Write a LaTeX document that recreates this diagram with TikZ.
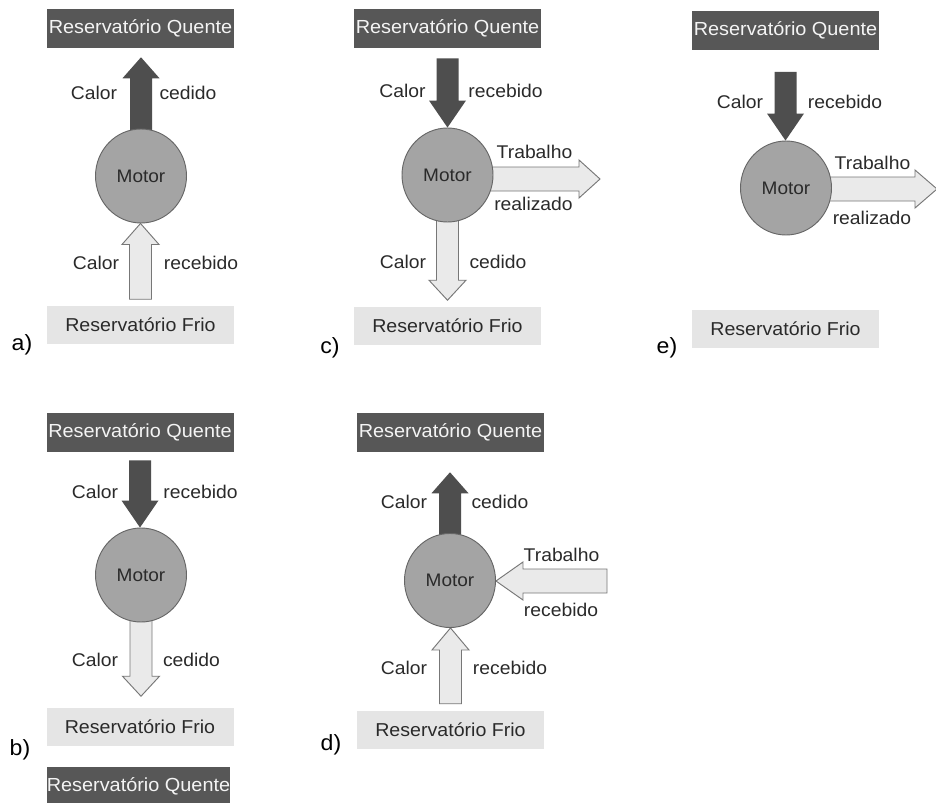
\documentclass[tikz,border=0pt]{standalone}
\usepackage{fontspec}
\setmainfont{Liberation Sans}[FakeStretch=1.05]
\usetikzlibrary{calc,backgrounds,shapes.geometric}
\definecolor{hotfill}{HTML}{575757}
\definecolor{hottext}{HTML}{F4F4F4}
\definecolor{coldfill}{HTML}{E5E5E5}
\definecolor{inktext}{HTML}{2A2A2A}
\definecolor{motorfill}{HTML}{A4A4A4}
\definecolor{motorline}{HTML}{666666}
\definecolor{darkarrow}{HTML}{4E4E4E}
\definecolor{lightarrow}{HTML}{EAEAEA}
\definecolor{lightline}{HTML}{777777}
\def\px{0.75pt}
\tikzset{
  hotbox/.style={rectangle, fill=hotfill, text=hottext, inner sep=0pt,
    minimum width=187*\px, minimum height=39*\px, font=\fontsize{14.2}{16}\selectfont},
  coldbox/.style={rectangle, fill=coldfill, text=inktext, inner sep=0pt,
    minimum width=187*\px, minimum height=38*\px, font=\fontsize{14}{16}\selectfont},
  motor/.style={ellipse, fill=motorfill, draw=motorline, line width=0.7pt, inner sep=0pt,
    minimum width=91*\px, minimum height=94*\px, text=inktext, font=\fontsize{13.6}{16}\selectfont},
  lbl/.style={text=inktext, inner sep=0pt, font=\fontsize{13.8}{16}\selectfont},
  tag/.style={text=black, inner sep=0pt, font=\fontsize{16.5}{18}\selectfont},
  darkarr/.style={fill=darkarrow},
  lightarr/.style={fill=lightarrow, draw=lightline, line width=0.7pt, line join=miter},
}
% vertical block arrow: style, tail, tip, head length (px)
\newcommand{\varr}[4]{%
  \path[#1] let \p1=#2, \p2=#3, \n1={sign(\y2-\y1)} in
    ({\x1-11*\px},\y1) -- ({\x1-11*\px},{\y2-(\n1)*#4*\px}) -- ({\x1-18.5*\px},{\y2-(\n1)*#4*\px})
    -- (\x1,\y2) -- ({\x1+18.5*\px},{\y2-(\n1)*#4*\px}) -- ({\x1+11*\px},{\y2-(\n1)*#4*\px})
    -- ({\x1+11*\px},\y1) -- cycle;}
% horizontal block arrow: style, tail, tip, head length (px)
\newcommand{\harr}[4]{%
  \path[#1] let \p1=#2, \p2=#3, \n1={sign(\x2-\x1)} in
    (\x1,{\y1-12*\px}) -- ({\x2-(\n1)*#4*\px},{\y1-12*\px}) -- ({\x2-(\n1)*#4*\px},{\y1-19*\px})
    -- (\x2,\y1) -- ({\x2-(\n1)*#4*\px},{\y1+19*\px}) -- ({\x2-(\n1)*#4*\px},{\y1+12*\px})
    -- (\x1,{\y1+12*\px}) -- cycle;}
\begin{document}
\begin{tikzpicture}[x=0.75pt, y=-0.75pt]
\clip (0,0) rectangle (936,803);
% ---------- panel a ----------
\node[hotbox] (ha) at (140.5,28.5) {Reservatório Quente};
\node[motor] (ca) at (141,176) {Motor};
\node[coldbox] (fa) at (140.5,324.5) {Reservatório Frio};
\node[lbl] (la1) at (94,93) {Calor};
\node[lbl] (la2) at (188,93) {cedido};
\node[lbl] (la3) at (96,263) {Calor};
\node[lbl] (la4) at (201,263) {recebido};
\node[tag] (ta) at (22,345) {a)};
% ---------- panel c ----------
\node[hotbox] (hc) at (447.5,28.5) {Reservatório Quente};
\node[motor] (cc) at (447.5,175) {Motor};
\node[coldbox] (fc) at (447.5,325.5) {Reservatório Frio};
\coordinate (wc) at (600,179);
\node[lbl] (lc1) at (402.5,91) {Calor};
\node[lbl] (lc2) at (505.5,91) {recebido};
\node[lbl] (lc3) at (534.5,152) {Trabalho};
\node[lbl] (lc4) at (533.5,204) {realizado};
\node[lbl] (lc5) at (403,262) {Calor};
\node[lbl] (lc6) at (498,262) {cedido};
\node[tag] (tc) at (330,348) {c)};
% ---------- panel e ----------
\node[hotbox] (he) at (785.5,30) {Reservatório Quente};
\node[motor] (ce) at (786,188) {Motor};
\node[coldbox] (fe) at (785.5,329) {Reservatório Frio};
\coordinate (we) at (937,189);
\node[lbl] (le1) at (740,102) {Calor};
\node[lbl] (le2) at (845,102) {recebido};
\node[lbl] (le3) at (872.5,163) {Trabalho};
\node[lbl] (le4) at (872,218) {realizado};
\node[tag] (te) at (667,348) {e)};
% ---------- panel b ----------
\node[hotbox] (hb) at (140,432.5) {Reservatório Quente};
\node[motor] (cb) at (141,575) {Motor};
\node[coldbox] (fb) at (140,726.5) {Reservatório Frio};
\node[hotbox, minimum width=183*\px] (hb2) at (138.5,786.5) {Reservatório Quente};
\node[lbl] (lb1) at (95,492) {Calor};
\node[lbl] (lb2) at (200.5,492) {recebido};
\node[lbl] (lb3) at (95,660) {Calor};
\node[lbl] (lb4) at (191.5,660) {cedido};
\node[tag] (tb) at (20,750) {b)};
% ---------- panel d ----------
\node[hotbox] (hd) at (450.5,432.5) {Reservatório Quente};
\node[motor] (cd) at (450,580.5) {Motor};
\node[coldbox] (fd) at (450.5,730) {Reservatório Frio};
\coordinate (wd) at (607,581);
\node[lbl] (ld1) at (404,502) {Calor};
\node[lbl] (ld2) at (500,502) {cedido};
\node[lbl] (ld3) at (561.5,555) {Trabalho};
\node[lbl] (ld4) at (561,610) {recebido};
\node[lbl] (ld5) at (404,668) {Calor};
\node[lbl] (ld6) at (510,668) {recebido};
\node[tag] (td) at (331,745) {d)};
% ---------- arrows (behind) ----------
\begin{pgfonlayer}{background}
\fill[white] (0,0) rectangle (936,803);
% a
\varr{darkarr}{(ca.center)}{($(ha.south)+(0,9)$)}{21}
\varr{lightarr}{($(fa.north)+(0,-6)$)}{(ca.south)}{21}
% c
\varr{darkarr}{($(hc.south)+(0,10)$)}{(cc.north)}{27}
\harr{lightarr}{($(cc.center)+(0,4)$)}{(wc)}{21}
\varr{lightarr}{(cc.center)}{($(fc.north)+(0,-6)$)}{20}
% e
\varr{darkarr}{($(he.south)+(0,22)$)}{(ce.north)}{27}
\harr{lightarr}{($(ce.center)+(0,1)$)}{(we)}{22}
% b
\varr{darkarr}{($(hb.south)+(0,8)$)}{(cb.north)}{27}
\varr{lightarr}{(cb.center)}{($(fb.north)+(0,-11)$)}{20}
% d
\varr{darkarr}{(cd.center)}{($(hd.south)+(0,20)$)}{21}
\harr{lightarr}{(wd)}{(cd.east)}{27}
\varr{lightarr}{($(fd.north)+(0,-7)$)}{(cd.south)}{22}
\end{pgfonlayer}
\end{tikzpicture}
\end{document}
